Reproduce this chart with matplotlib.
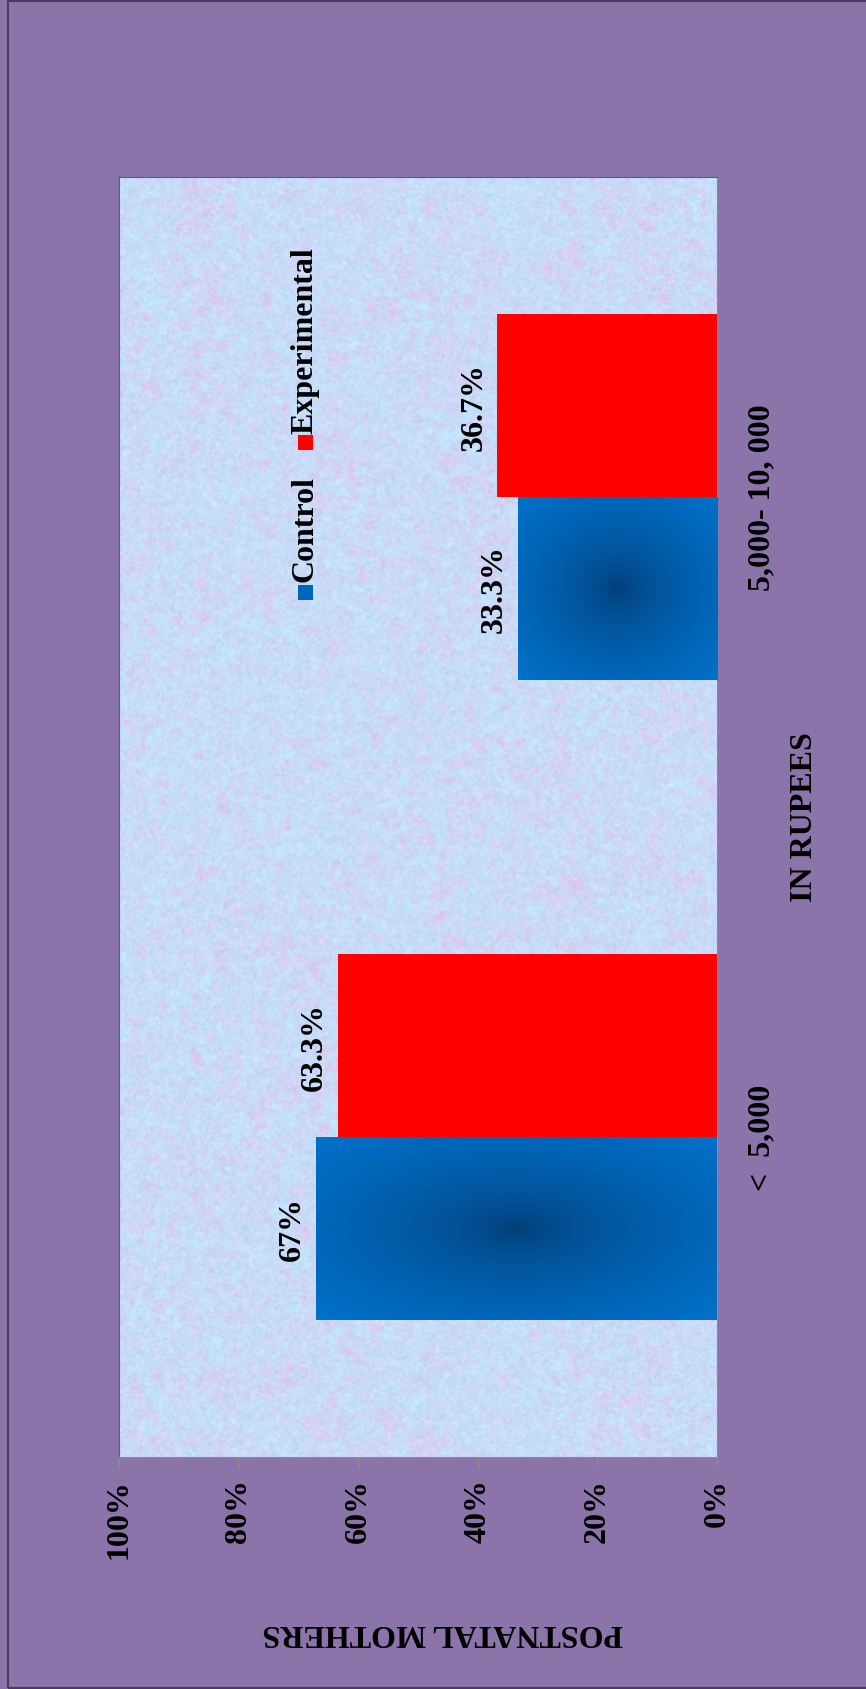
import numpy as np
import matplotlib.pyplot as plt
from matplotlib.colors import to_rgb
from matplotlib.patches import Rectangle

# income groups and share of postnatal mothers (%)
categories = ["<  5,000", "5,000- 10, 000"]
control = [67.0, 33.3]
experimental = [63.3, 36.7]
control_labels = ["67%", "33.3%"]
experimental_labels = ["63.3%", "36.7%"]
value_ticks = [0, 20, 40, 60, 80, 100]

plt.rcParams["font.family"] = ["Liberation Serif", "DejaVu Serif"]
plt.rcParams["font.weight"] = "bold"
FS = 23

BG = "#8B74AA"
BLUE_EDGE = np.array(to_rgb("#0071CA"))
BLUE_CORE = np.array(to_rgb("#043B73"))
RED = "#FF0000"


def smooth_noise(rng, h, w, sigma):
    n = rng.standard_normal((h, w))
    fy = np.fft.fftfreq(h)[:, None]
    fx = np.fft.fftfreq(w)[None, :]
    g = np.exp(-2 * (np.pi * sigma) ** 2 * (fx ** 2 + fy ** 2))
    f = np.real(np.fft.ifft2(np.fft.fft2(n) * g))
    return (f - f.mean()) / f.std()


def marble(h, w):
    # soft mottled paper texture for the plot area
    rng = np.random.default_rng(7)
    big = smooth_noise(rng, h, w, 14)
    mid = smooth_noise(rng, h, w, 4)
    mid2 = smooth_noise(rng, h, w, 3)
    fine = smooth_noise(rng, h, w, 1.0)
    base = np.array(to_rgb("#C8DAF6"))
    pink = np.array(to_rgb("#DCCAF0"))
    cyan = np.array(to_rgb("#C2E4FA"))
    t = np.clip(0.25 + 0.22 * mid + 0.12 * big, 0, 1)[..., None]
    s = np.clip(0.35 + 0.25 * mid2, 0, 1)[..., None]
    img = base * (1 - t) + pink * t
    img = img * (1 - s) + cyan * s
    img = img + 0.012 * fine[..., None]
    return np.clip(img, 0, 1)


def radial_fill(ax, x0, x1, y0, y1):
    n = 200
    xx, yy = np.meshgrid(np.linspace(-1, 1, n), np.linspace(-1, 1, n))
    r = np.clip(np.sqrt(xx ** 2 + yy ** 2) / np.sqrt(2), 0, 1) ** 0.6
    img = BLUE_CORE * (1 - r[..., None]) + BLUE_EDGE * r[..., None]
    ax.imshow(img, extent=(x0, x1, y0, y1), aspect="auto", zorder=3,
              interpolation="bilinear")


fig = plt.figure(figsize=(8.66, 16.90), dpi=100)
fig.patch.set_facecolor(BG)
fig.patches.append(Rectangle((8 / 866, 1 / 1690), 1.2, 1687 / 1690,
                             transform=fig.transFigure, fill=False,
                             edgecolor="#4A3A60", linewidth=1.5))

ax = fig.add_axes([0.137, 0.1373, 0.691, 0.7574])
ax.imshow(marble(1280, 600), extent=(0, 1, 0, 1), transform=ax.transAxes,
          aspect="auto", zorder=0)

y = np.arange(len(categories))
h = 1 / 3.5
ax.barh(y - h / 2, control, height=h, color=BLUE_EDGE, zorder=2)
ax.barh(y + h / 2, experimental, height=h, color=RED, zorder=2)
for yi, v in zip(y, control):
    radial_fill(ax, 0, v, yi - h, yi)

for yi, v, lab in zip(y, control, control_labels):
    ax.annotate(lab, xy=(v, yi - h / 2), xytext=(-6.5, 0),
                textcoords="offset points", rotation=90, ha="right",
                va="center", fontsize=FS, fontweight="bold")
for yi, v, lab in zip(y, experimental, experimental_labels):
    ax.annotate(lab, xy=(v, yi + h / 2), xytext=(-6.5, 0),
                textcoords="offset points", rotation=90, ha="right",
                va="center", fontsize=FS, fontweight="bold")

ax.set_xlim(100, 0)
ax.set_ylim(-0.5, 1.5)
ax.set_xticks(value_ticks)
ax.set_xticklabels([f"{t}%" for t in value_ticks], rotation=90,
                   fontsize=FS, fontweight="bold")
ax.tick_params(axis="x", length=7.2, width=1, color="#8C8C8C", pad=8)

ax.yaxis.tick_right()
ax.set_yticks(y)
ax.set_yticklabels(categories, rotation=90, va="center",
                   fontsize=FS, fontweight="bold")
ax.tick_params(axis="y", length=0, pad=22)

for side in ("bottom", "right"):
    ax.spines[side].set_color("#8C8C8C")
for side in ("top", "left"):
    ax.spines[side].set_color("#3D6A80")

# axis titles
fig.text(804 / 866, 1 - 817 / 1690, "IN RUPEES", rotation=90,
         ha="center", va="center", fontsize=FS, fontweight="bold")
fig.text(443 / 866, 1 - 1633 / 1690, "POSTNATAL MOTHERS", rotation=180,
         ha="center", va="center", fontsize=FS, fontweight="bold")

# legend, reading bottom to top
sq = 15
fig.patches.append(Rectangle(((305 - sq / 2) / 866, (1690 - 601) / 1690),
                             sq / 866, sq / 1690, transform=fig.transFigure,
                             facecolor="#0066BB", edgecolor="none"))
fig.text(305 / 866, (1690 - 582) / 1690, "Control", rotation=90,
         ha="center", va="bottom", fontsize=FS, fontweight="bold")
fig.patches.append(Rectangle(((305 - sq / 2) / 866, (1690 - 451) / 1690),
                             sq / 866, sq / 1690, transform=fig.transFigure,
                             facecolor=RED, edgecolor="none"))
fig.text(305 / 866, (1690 - 434) / 1690, "Experimental", rotation=90,
         ha="center", va="bottom", fontsize=FS, fontweight="bold")

fig.savefig("out.png", dpi=100, facecolor=fig.get_facecolor())
